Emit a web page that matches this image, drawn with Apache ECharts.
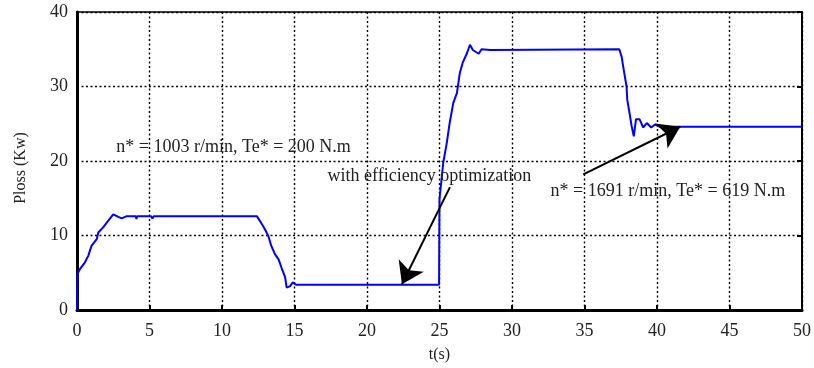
<!DOCTYPE html>
<html>
<head>
<meta charset="utf-8">
<script src="https://cdn.jsdelivr.net/npm/echarts@6/dist/echarts.min.js"></script>
<style>
  html, body { margin: 0; padding: 0; background: #fff; }
  #chart { width: 814px; height: 368px; }
</style>
</head>
<body>
<div id="chart"></div>
<script>
// time (s) and loss (kW)
const times = [
  0, 0.02, 0.2, 0.55, 0.78, 1.0, 1.36, 1.47, 1.8, 2.16, 2.5, 2.85, 3.08, 3.43,
  4.05, 4.1, 4.15, 5.1, 5.2, 5.3, 12.4, 12.6, 12.97, 13.2, 13.4, 13.65, 13.9,
  14.1, 14.35, 14.46, 14.7, 14.87, 15.1, 24.97, 25.0, 25.26, 25.5, 25.7, 25.95,
  26.2, 26.4, 26.6, 26.9, 27.1, 27.3, 27.7, 27.9, 28.5, 37.4, 37.56, 37.7, 37.9,
  37.95, 38.1, 38.25, 38.4, 38.55, 38.8, 39.05, 39.3, 39.6, 39.86, 40.2, 50
];
const ploss = [
  0, 4.8, 5.5, 6.4, 7.3, 8.6, 9.5, 10.4, 11.1, 12.0, 12.85, 12.5, 12.3, 12.6,
  12.6, 12.2, 12.6, 12.6, 12.3, 12.6, 12.6, 12.0, 10.8, 9.9, 8.6, 7.5, 6.8,
  5.7, 4.4, 3.0, 3.2, 3.7, 3.4, 3.4, 14.9, 19.8, 22.4, 25.1, 27.8,
  29.1, 31.8, 33.2, 34.5, 35.6, 34.9, 34.4, 35.0, 34.9, 35.0, 34.0, 32.3, 30.0,
  28.2, 26.5, 24.7, 23.3, 25.6, 25.6, 24.5, 25.1, 24.5, 24.9, 24.6, 24.6
];

const notes = [
  { text: "n* = 1003 r/min, Te* = 200 N.m", at: [10.8, 21.8] },
  { text: "with efficiency optimization", at: [24.3, 17.9] },
  { text: "n* = 1691 r/min, Te* = 619 N.m", at: [40.75, 16.0] }
];
const arrows = [
  { from: [25.72, 16.5], to: [22.41, 3.45] },
  { from: [34.92, 18.2], to: [41.6, 24.6] }
];

const serif = "'Liberation Serif', 'DejaVu Serif', serif";
const dotted = { show: true, lineStyle: { color: "#000", width: 1.4, type: [2, 2.5] } };
const inTicks = { show: true, inside: true, length: 5, lineStyle: { color: "#000", width: 2 } };

const chart = echarts.init(document.getElementById("chart"), null, { renderer: "canvas" });
chart.setOption({
  animation: false,
  backgroundColor: "#fff",
  grid: { left: 77, right: 12, top: 12, bottom: 57 },
  xAxis: [
    {
      type: "value", min: 0, max: 50, interval: 5,
      name: "t(s)", nameLocation: "middle", nameGap: 37,
      nameTextStyle: { fontFamily: serif, fontSize: 16, color: "#222" },
      axisLine: { show: true, onZero: false, lineStyle: { color: "#000", width: 3 } },
      axisTick: inTicks,
      axisLabel: { fontFamily: serif, fontSize: 18, color: "#222", margin: 12 },
      splitLine: dotted
    },
    {
      type: "value", min: 0, max: 50, interval: 5, position: "top",
      axisLine: { show: true, onZero: false, lineStyle: { color: "#000", width: 1.5 } },
      axisTick: { show: false }, axisLabel: { show: false }, splitLine: { show: false }
    }
  ],
  yAxis: [
    {
      type: "value", min: 0, max: 40, interval: 10,
      name: "Ploss (Kw)", nameLocation: "middle", nameGap: 48,
      nameTextStyle: { fontFamily: serif, fontSize: 16, color: "#222", padding: [0, 14, 0, 0] },
      axisLine: { show: true, onZero: false, lineStyle: { color: "#000", width: 3 } },
      axisTick: { show: false },
      axisLabel: { fontFamily: serif, fontSize: 18, color: "#222", margin: 9 },
      splitLine: dotted
    },
    {
      type: "value", min: 0, max: 40, interval: 10, position: "right",
      axisLine: { show: true, onZero: false, lineStyle: { color: "#000", width: 2 } },
      axisTick: inTicks,
      axisLabel: { show: false }, splitLine: { show: false }
    }
  ],
  series: [
    {
      type: "line",
      data: times.map((t, i) => [t, ploss[i]]),
      symbol: "none",
      lineStyle: { color: "#0000ff", width: 2 },
      markLine: {
        silent: true,
        symbol: ["none", "arrow"],
        symbolSize: 21,
        lineStyle: { color: "#000", width: 2, type: "solid" },
        label: { show: false },
        data: arrows.map((a) => [{ coord: a.from }, { coord: a.to }])
      },
      markPoint: {
        silent: true,
        symbol: "circle",
        symbolSize: 0,
        label: {
          show: true, position: "inside", fontFamily: serif, fontSize: 18, color: "#222",
          formatter: (p) => p.name
        },
        data: notes.map((n) => ({ name: n.text, coord: n.at }))
      }
    }
  ]
});
</script>
</body>
</html>
